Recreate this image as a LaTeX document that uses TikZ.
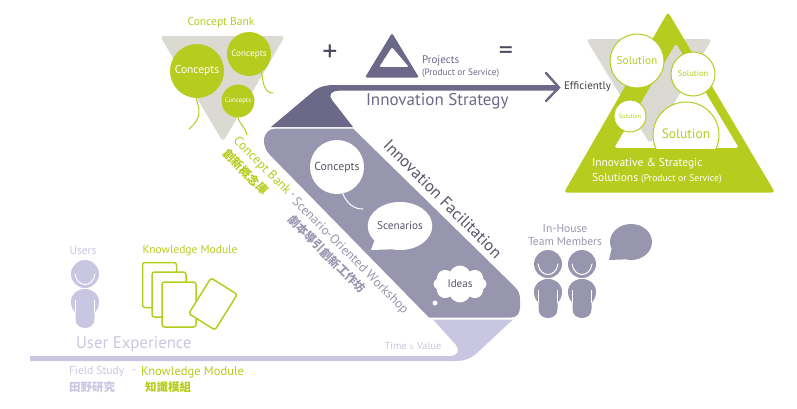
\documentclass[tikz,border=0pt]{standalone}
\usepackage{xcolor}
\usepackage{fontspec}
\usepackage{tikz}
\usetikzlibrary{shapes.geometric, shapes.symbols}
\setmainfont{PT Sans}
\newfontfamily\cjk{Noto Sans CJK TC}
\newcommand{\fsz}[1]{\fontsize{#1}{#1}\selectfont}
\definecolor{leaf}{HTML}{B6CC1E}
\definecolor{dusk}{HTML}{6B6888}
\definecolor{slate}{HTML}{9896AF}
\definecolor{lilac}{HTML}{C9C6E1}
\definecolor{stone}{HTML}{DADAD3}
\definecolor{ink}{HTML}{55556A}
\tikzset{
    person/.pic={
        \fill (0,0) circle (14);
        \draw[white, line width=1pt, line cap=round] (-10,0) .. controls (-8,14) and (8,14) .. (10,0);
        \fill (-14,28) .. controls (-14,20) and (-8,15) .. (0,15) .. controls (8,15) and (14,20) .. (14,28)
            .. controls (14,33) and (12,36) .. (9.5,39) -- (9.5,45) .. controls (9.5,51) and (5,54) .. (0,54)
            .. controls (-5,54) and (-9.5,51) .. (-9.5,45) -- (-9.5,39) .. controls (-12,36) and (-14,33) .. (-14,28) -- cycle;
        \draw[white, line width=0.6pt] (-9.5,26) -- (-9.5,39) (9.5,26) -- (9.5,39);
    }
}
\begin{document}
\begin{tikzpicture}[
    x=1pt, y=-1pt,
    balloon/.style={circle, fill=leaf, text=white, inner sep=0pt},
    bubble/.style={circle, fill=white, text=ink, inner sep=0pt},
    solution/.style={circle, draw=leaf, line width=1pt, fill=white, text=leaf, inner sep=0pt},
    card/.style={rectangle, draw=leaf, line width=1.5pt, fill=white, rounded corners=2.5pt, minimum width=34pt, minimum height=45pt},
    string/.style={line width=1pt, line cap=round},
    tag/.style={inner sep=0pt, outer sep=0pt, text=ink}
]
    \useasboundingbox (0,0) rectangle (797,408);

    % concept bank
    \fill[stone, rounded corners=4pt] (160,36) -- (285,36) -- (223,142) -- cycle;
    \node[balloon, minimum size=54pt, font=\fsz{11.5}] (bigconcept) at (197,71) {Concepts};
    \node[balloon, minimum size=44pt, font=\fsz{9.2}] (topconcept) at (249,54) {Concepts};
    \node[balloon, minimum size=33pt, font=\fsz{6.8}] (lowconcept) at (238,101) {Concepts};
    \coordinate (bigend) at (189,129);
    \coordinate (topend) at (273,93);
    \coordinate (lowend) at (247,135);
    \draw[string, leaf] (bigconcept.south) ++(-1,0) .. controls (200,110) and (202,118) .. (bigend);
    \draw[string, leaf] (topconcept.305) .. controls (263,85) and (265,93) .. (topend);
    \draw[string, leaf] (lowconcept.south) .. controls (240,125) and (246,128) .. (lowend);
    \node[tag, text=leaf, font=\fsz{11.5}] (banktitle) at (221,23) {Concept Bank};

    % plus projects equals
    \node[tag, font=\fsz{30}, text=dusk!70!black] (plus) at (330,53) {+};
    \fill[dusk, rounded corners=2pt, even odd rule] (392,33) -- (419,77.5) -- (365,77.5) -- cycle
        (392,47) -- (379,67) -- (409,67) -- cycle;
    \node[tag, text=dusk, font=\fsz{11}, anchor=west] (projects) at (422,60.5) {Projects};
    \node[tag, text=dusk, font=\fsz{9.3}, anchor=west] (prodservice) at (422,73) {(Product or Service)};
    \node[tag, font=\fsz{28}, text=dusk!70!black] (equals) at (506,53) {=};

    % strategy band
    \fill[dusk] (271,127) -- (315,90) .. controls (321,86) and (327,85) .. (335,85) -- (558,85) -- (558,90.7)
        -- (339,90.7) .. controls (331,90.7) and (328,95) .. (332,100) -- (353,127) -- cycle;
    \draw[dusk, line width=2.4pt, line join=miter, line cap=round] (546,73) -- (559,87.5) -- (546,101);
    \node[tag, text=dusk, font=\fsz{17}, anchor=west] (strategy) at (366,101) {Innovation Strategy};
    \node[tag, text=black!75, font=\fsz{11}, anchor=west] (efficiently) at (564,87) {Efficiently};

    % facilitation band
    \fill[slate] (276,128.5) -- (353,128.5) -- (515,287) .. controls (519,291) and (520,295) .. (520,300)
        -- (520,307) .. controls (520,313) and (517,317.5) .. (511,317.5) -- (429,317.5) -- (270,155)
        .. controls (266,151) and (264,146) .. (264,141) .. controls (264,133) and (269,128.5) .. (276,128.5) -- cycle;
    \fill[lilac] (433,319.5) -- (513,319.5) -- (477,353) .. controls (471,358.5) and (464,361) .. (455,361)
        -- (30,361) -- (30,356) -- (450,356) .. controls (458,356) and (460,350) .. (456,345) -- cycle;
    \node[tag, text=ink, font=\fsz{16.5}, rotate=-45] (facilitation) at (443,199) {Innovation Facilitation};

    \node[bubble, minimum size=54pt, font=\fsz{11.7}] (concepts) at (337,167) {Concepts};
    \coordinate (conceptend) at (363,209);
    \draw[string, white] (concepts.282) .. controls (347,203) and (353,209) .. (conceptend);
    \node[ellipse, fill=white, text=ink, minimum width=57pt, minimum height=48pt, inner sep=0pt, font=\fsz{11.2}] (scenarios) at (400,226) {Scenarios};
    \coordinate (scentail) at (371,250);
    \fill[white] (scenarios.210) -- (scentail) -- (scenarios.250) -- cycle;
    \node[cloud, cloud puffs=8, cloud puff arc=130, aspect=1.5, fill=white, text=ink, minimum width=53pt, minimum height=37pt, inner sep=0pt, font=\fsz{11}] (ideas) at (460,284) {Ideas};
    \node[circle, fill=white, minimum size=5pt, inner sep=0pt] (ideadot) at (435,303) {};

    % rotated captions
    \node[tag, text=leaf, font=\fsz{13}, rotate=-45] (bankcap) at (262,166) {Concept Bank};
    \node[tag, text=leaf, font=\cjk\bfseries\fsz{11.5}, rotate=-45] (bankcjk) at (246,172) {創新概念庫};
    \node[tag, text=slate, font=\fsz{12}, rotate=-45] (capdash) at (292,196) {-};
    \node[tag, text=slate, font=\fsz{13}, rotate=-45] (workshop) at (350,256) {Scenario-Oriented Workshop};
    \node[tag, text=slate, font=\cjk\bfseries\fsz{11.5}, rotate=-45] (workshopcjk) at (327,254) {劇本導引創新工作坊};
    \node[tag, text=lilac, font=\fsz{10.3}] (timevalue) at (413,346) {Time {\fsz{6}\&} Value};

    % solutions triangle
    \fill[stone, rounded corners=4pt] (586,39) -- (712,39) -- (650,144) -- cycle;
    \fill[leaf, rounded corners=3pt, even odd rule] (668,12) -- (775,192.5) -- (564,192.5) -- cycle
        (676,43) -- (739,148) -- (614,148) -- cycle;
    \begin{scope}
        \clip (640,90) rectangle (730,148);
        \node[solution, minimum size=66pt] (bigsolution) at (686,135) {};
    \end{scope}
    \node[tag, text=leaf, font=\fsz{13.5}] (bigsolutionlab) at (686,134) {Solution};
    \node[solution, minimum size=54pt, font=\fsz{11.3}] (topsolution) at (637,61) {Solution};
    \node[solution, minimum size=44pt, font=\fsz{8.5}] (rightsolution) at (693,74) {Solution};
    \node[solution, minimum size=32pt, font=\fsz{6.2}] (leftsolution) at (630,116) {Solution};
    \node[tag, text=white, font=\fsz{11.5}, anchor=west] (innovative) at (592,164) {Innovative \& Strategic};
    \node[tag, text=white, font=\fsz{11.5}, anchor=west] (solutions) at (592,178) {Solutions {\fsz{9.7}(Product or Service)}};

    % users and cards
    \pic[lilac] at (85,274) {person};
    \node[tag, text=lilac, font=\fsz{11.5}] (users) at (83,251) {Users};
    \node[tag, text=leaf, font=\fsz{11.5}] (moduletitle) at (190,251) {Knowledge Module};
    \node[card] (cardone) at (159.5,285) {};
    \node[card] (cardtwo) at (169,294.5) {};
    \node[card] (cardthree) at (179,304.5) {};
    \node[card, rotate=-32, minimum width=31pt, minimum height=42pt] (cardfour) at (213,304) {};
    \node[tag, text=lilac, font=\fsz{16.8}, anchor=west] (experience) at (76,344) {User Experience};
    \node[tag, text=lilac, font=\fsz{11.5}, anchor=west] (fieldstudy) at (69,372) {Field Study};
    \node[tag, text=lilac, font=\fsz{11.5}] (fielddash) at (134,372) {-};
    \node[tag, text=leaf, font=\fsz{12.5}, anchor=west] (modulecap) at (141,372) {Knowledge Module};
    \node[tag, text=lilac, font=\cjk\bfseries\fsz{11.5}, anchor=west] (fieldcjk) at (69,387) {田野研究};
    \node[tag, text=leaf, font=\cjk\bfseries\fsz{11.5}, anchor=west] (modulecjk) at (145,387) {知識模組};

    % team members
    \node[tag, text=slate, font=\fsz{11.5}, align=center] (inhouse) at (565,235) {In-House\\[2pt]Team Members};
    \pic[slate] at (548,264) {person};
    \pic[slate] at (582,264) {person};
    \node[ellipse, fill=slate, minimum width=42pt, minimum height=36pt, inner sep=0pt] (teambubble) at (631,242) {};
    \coordinate (teamtail) at (609,260);
    \fill[slate] (teambubble.200) -- (teamtail) -- (teambubble.250) -- cycle;
\end{tikzpicture}
\end{document}
